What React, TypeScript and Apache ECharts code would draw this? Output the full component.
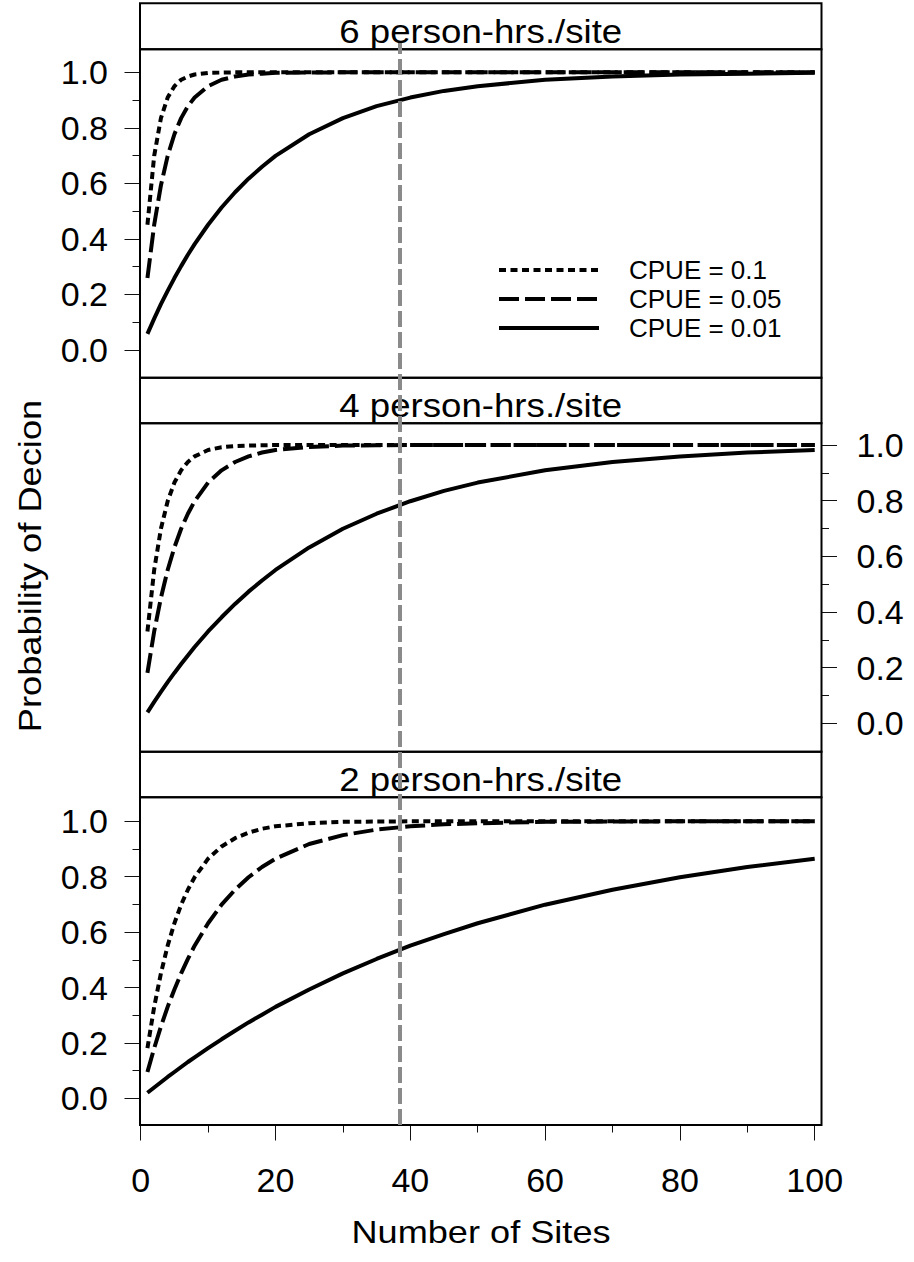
import React, { useEffect, useRef } from "react";
import * as echarts from "echarts";

const FONT = "'Liberation Sans', Arial, Helvetica, sans-serif";

// Number of sites (x values)
const SITES = [1, 2, 3, 4, 5, 6, 7, 8, 10, 12, 14, 16, 18, 20, 25, 30, 35, 40, 45, 50, 60, 70, 80, 90, 100];

// Panel titles
const PANEL_TITLES = ["6 person-hrs./site", "4 person-hrs./site", "2 person-hrs./site"];
const SERIES_NAMES = ["CPUE = 0.1", "CPUE = 0.05", "CPUE = 0.01"];

// 6 person-hrs./site
const P6_C010 = [0.451, 0.699, 0.835, 0.909, 0.95, 0.973, 0.985, 0.992, 0.998, 0.999, 1, 1, 1, 1, 1, 1, 1, 1, 1, 1, 1, 1, 1, 1, 1];
const P6_C005 = [0.259, 0.451, 0.593, 0.699, 0.777, 0.835, 0.878, 0.909, 0.95, 0.973, 0.985, 0.992, 0.995, 0.998, 0.999, 1, 1, 1, 1, 1, 1, 1, 1, 1, 1];
const P6_C001 = [0.058, 0.113, 0.165, 0.213, 0.259, 0.302, 0.343, 0.381, 0.451, 0.513, 0.568, 0.617, 0.66, 0.699, 0.777, 0.835, 0.878, 0.909, 0.933, 0.95, 0.973, 0.985, 0.992, 0.995, 0.998];

// 4 person-hrs./site
const P4_C010 = [0.33, 0.551, 0.699, 0.798, 0.865, 0.909, 0.939, 0.959, 0.982, 0.992, 0.996, 0.998, 0.999, 1, 1, 1, 1, 1, 1, 1, 1, 1, 1, 1, 1];
const P4_C005 = [0.181, 0.33, 0.451, 0.551, 0.632, 0.699, 0.753, 0.798, 0.865, 0.909, 0.939, 0.959, 0.973, 0.982, 0.993, 0.998, 0.999, 1, 1, 1, 1, 1, 1, 1, 1];
const P4_C001 = [0.039, 0.077, 0.113, 0.148, 0.181, 0.213, 0.244, 0.274, 0.33, 0.381, 0.429, 0.473, 0.513, 0.551, 0.632, 0.699, 0.753, 0.798, 0.835, 0.865, 0.909, 0.939, 0.959, 0.973, 0.982];

// 2 person-hrs./site
const P2_C010 = [0.181, 0.33, 0.451, 0.551, 0.632, 0.699, 0.753, 0.798, 0.865, 0.909, 0.939, 0.959, 0.973, 0.982, 0.993, 0.998, 0.999, 1, 1, 1, 1, 1, 1, 1, 1];
const P2_C005 = [0.095, 0.181, 0.259, 0.33, 0.393, 0.451, 0.503, 0.551, 0.632, 0.699, 0.753, 0.798, 0.835, 0.865, 0.918, 0.95, 0.97, 0.982, 0.989, 0.993, 0.998, 0.999, 1, 1, 1];
const P2_C001 = [0.02, 0.039, 0.058, 0.077, 0.095, 0.113, 0.131, 0.148, 0.181, 0.213, 0.244, 0.274, 0.302, 0.33, 0.393, 0.451, 0.503, 0.551, 0.593, 0.632, 0.699, 0.753, 0.798, 0.835, 0.865];

const PANELS = [
  [P6_C010, P6_C005, P6_C001],
  [P4_C010, P4_C005, P4_C001],
  [P2_C010, P2_C005, P2_C001],
];

// Reference vertical line (number of sites)
const REF_SITES = 38.4;

const X_MIN = 0;
const X_MAX = 100;
const Y_TICKS_MIN = 0;
const Y_TICKS_MAX = 1;

export default function App() {
  const ref = useRef<HTMLDivElement>(null);

  useEffect(() => {
    if (!ref.current) return;
    const chart = echarts.init(ref.current, undefined, { renderer: "svg" });

    const W = 914;
    const frameLeft = 140;
    const frameRight = 821.5;
    const gridLeft = 140.7;
    const gridRight = W - 814.7;

    const grids = [
      { left: gridLeft, right: gridRight, top: 72.3, height: 277.7 },
      { left: gridLeft, right: gridRight, top: 445, height: 278.3 },
      { left: gridLeft, right: gridRight, top: 821.3, height: 277 },
      { left: gridLeft, right: gridRight, top: 43, height: 1082 },
    ];

    const strips = [
      { y: 3.3, h: 46 },
      { y: 377.7, h: 45.6 },
      { y: 751.7, h: 45.6 },
    ];
    const plots = [
      { y: 49.3, h: 328.4 },
      { y: 423.3, h: 328.4 },
      { y: 797.3, h: 327.7 },
    ];

    const tickStyle = { color: "#111", width: 1 };

    const xAxes: any[] = [0, 1, 2, 3].map((i) => ({
      type: "value",
      gridIndex: i,
      min: X_MIN,
      max: X_MAX,
      interval: 20,
      show: i === 2,
      position: "bottom",
      offset: i === 2 ? 26.7 : 0,
      axisLine: { show: false, onZero: false },
      axisTick: { show: true, inside: false, length: 15.5, lineStyle: tickStyle },
      minorTick: { show: true, splitNumber: 2, length: 7.5, lineStyle: tickStyle },
      splitLine: { show: false },
      minorSplitLine: { show: false },
      axisLabel: {
        show: true,
        margin: 38,
        fontSize: 34,
        fontFamily: FONT,
        color: "#000",
      },
    }));

    const yAxes: any[] = [0, 1, 2, 3].map((i) => ({
      type: "value",
      gridIndex: i,
      min: Y_TICKS_MIN,
      max: Y_TICKS_MAX,
      interval: 0.2,
      show: i !== 3,
      position: i === 1 ? "right" : "left",
      offset: i === 1 ? 6.8 : 0.7,
      axisLine: { show: false, onZero: false },
      axisTick: { show: true, inside: false, length: 15.5, lineStyle: tickStyle },
      minorTick: { show: true, splitNumber: 2, length: 7.5, lineStyle: tickStyle },
      splitLine: { show: false },
      minorSplitLine: { show: false },
      axisLabel: {
        show: true,
        margin: i === 1 ? 35 : 32,
        fontSize: 34,
        fontFamily: FONT,
        color: "#000",
        padding: [13, 0, 0, 0],
        formatter: (v: number) => v.toFixed(1),
      },
    }));

    const lineTypes: any[] = [[7, 4.5], [20, 6], "solid"];

    const series: any[] = [];
    PANELS.forEach((panel, gi) => {
      panel.forEach((vals, si) => {
        series.push({
          type: "line",
          name: SERIES_NAMES[si],
          xAxisIndex: gi,
          yAxisIndex: gi,
          data: SITES.map((s, k) => [s, vals[k]]),
          symbol: "none",
          clip: false,
          lineStyle: { color: "#000", width: 4, type: lineTypes[si], cap: "butt" },
          itemStyle: { color: "#000" },
          z: 3,
        });
      });
    });

    series.push({
      type: "line",
      xAxisIndex: 3,
      yAxisIndex: 3,
      data: [],
      silent: true,
      z: 5,
      markLine: {
        silent: true,
        symbol: ["none", "none"],
        label: { show: false },
        lineStyle: { color: "#8a8a8a", width: 4, type: [16, 5] },
        data: [{ xAxis: REF_SITES }],
      },
    });

    const graphics: any[] = [];
    strips.forEach((s, i) => {
      graphics.push({
        type: "rect",
        shape: { x: frameLeft, y: s.y, width: frameRight - frameLeft, height: s.h },
        style: { fill: "none", stroke: "#000", lineWidth: 2 },
        z: 1,
      });
      graphics.push({
        type: "text",
        x: (frameLeft + frameRight) / 2,
        y: s.y + s.h - 18.5,
        scaleX: 1.11,
        style: {
          text: PANEL_TITLES[i],
          font: `33px ${FONT}`,
          fill: "#000",
          align: "center",
          verticalAlign: "middle",
        },
        z: 2,
      });
    });
    plots.forEach((p) => {
      graphics.push({
        type: "rect",
        shape: { x: frameLeft, y: p.y, width: frameRight - frameLeft, height: p.h },
        style: { fill: "none", stroke: "#000", lineWidth: 2 },
        z: 1,
      });
    });
    graphics.push({
      type: "text",
      x: 30,
      y: 566,
      rotation: Math.PI / 2,
      scaleX: 1.17,
      style: {
        text: "Probability of Decion",
        font: `31px ${FONT}`,
        fill: "#000",
        align: "center",
        verticalAlign: "middle",
      },
    });
    graphics.push({
      type: "text",
      x: 481,
      y: 1232,
      scaleX: 1.13,
      style: {
        text: "Number of Sites",
        font: `32px ${FONT}`,
        fill: "#000",
        align: "center",
        verticalAlign: "middle",
      },
    });

    chart.setOption({
      animation: false,
      backgroundColor: "#fff",
      grid: grids,
      xAxis: xAxes,
      yAxis: yAxes,
      legend: {
        show: true,
        orient: "vertical",
        left: 497,
        top: 257,
        padding: 0,
        itemWidth: 100,
        itemHeight: 30,
        itemGap: 3,
        selectedMode: false,
        data: SERIES_NAMES,
        lineStyle: { width: 4 },
        itemStyle: { color: "rgba(0,0,0,0)", borderWidth: 0, opacity: 0 },
        textStyle: { fontSize: 26, fontFamily: FONT, color: "#000", padding: [0, 0, 0, 25] },
      },
      graphic: graphics,
      series,
    });

    return () => chart.dispose();
  }, []);

  return (
    <div
      ref={ref}
      style={{ position: "absolute", left: 0, top: 0, width: 914, height: 1262, background: "#fff" }}
    />
  );
}
